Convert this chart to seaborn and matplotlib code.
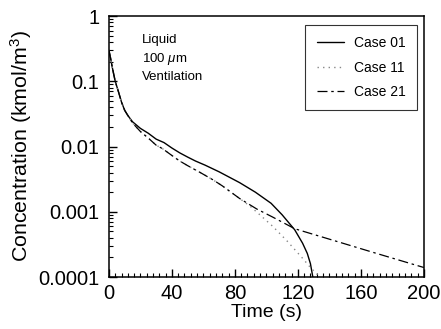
import matplotlib
matplotlib.use("Agg")
import matplotlib.pyplot as plt
from matplotlib.ticker import FixedLocator, FixedFormatter, MultipleLocator, LogLocator, NullFormatter
import seaborn as sns

# Case 01 (solid)
t_case01 = [0, 1, 2, 3, 4, 6, 8, 10, 12, 15, 20, 25, 30, 35, 40, 45, 50, 55, 61, 70,
             83, 93, 103, 110, 118, 123, 126, 128, 129.5]
c_case01 = [0.30, 0.23, 0.17, 0.13, 0.10, 0.07, 0.048, 0.036, 0.030, 0.024, 0.019, 0.016,
            0.013, 0.0115, 0.0095, 0.0080, 0.0069, 0.0060, 0.0052, 0.0041,
            0.0028, 0.0020, 0.00135, 0.0009, 0.00053, 0.00033, 0.00023, 0.00016, 0.0001]

# Case 11 (dotted)
t_case11 = [0, 1, 2, 3, 4, 6, 8, 10, 12, 15, 20, 25, 30, 34, 40, 45, 50, 58, 66, 72,
            83, 90, 97, 104, 113, 122.5, 128, 134]
c_case11 = [0.30, 0.23, 0.17, 0.13, 0.10, 0.07, 0.048, 0.036, 0.030, 0.023, 0.017, 0.0135,
            0.0105, 0.0093, 0.0073, 0.0060, 0.0051, 0.0040, 0.0031, 0.0025,
            0.0016, 0.0012, 0.00085, 0.0006, 0.00036, 0.0002, 0.00014, 0.0001]

# Case 21 (dash)
t_case21 = [0, 1, 2, 3, 4, 6, 8, 10, 12, 15, 20, 25, 30, 34, 40, 45, 50, 58, 66, 72,
            83, 94, 104, 118, 145, 170, 200]
c_case21 = [0.30, 0.23, 0.17, 0.13, 0.10, 0.07, 0.048, 0.036, 0.030, 0.023, 0.017, 0.0135,
            0.0105, 0.0093, 0.0073, 0.0060, 0.0051, 0.0040, 0.0031, 0.0025,
            0.0016, 0.0011, 0.00083, 0.00055, 0.00035, 0.00023, 0.00014]

y_ticks = [0.0001, 0.001, 0.01, 0.1, 1]
y_labels = ["0.0001", "0.001", "0.01", "0.1", "1"]
x_ticks = [0, 40, 80, 120, 160, 200]

sns.set_style("ticks")
plt.rcParams['font.family'] = ['Liberation Sans', 'DejaVu Sans']
plt.rcParams['mathtext.fontset'] = 'custom'
plt.rcParams['mathtext.rm'] = 'Liberation Sans'
plt.rcParams['mathtext.it'] = 'Liberation Sans:italic'
for k in ['text.color', 'axes.labelcolor', 'xtick.color', 'ytick.color']:
    plt.rcParams[k] = 'black'

fig = plt.figure(figsize=(4.41, 3.29), dpi=100)
ax = fig.add_axes([0.247, 0.158, 0.714, 0.793])

sns.lineplot(x=t_case01, y=c_case01, ax=ax, color="black", lw=1.0, label="Case 01")
sns.lineplot(x=t_case11, y=c_case11, ax=ax, color="#888888", lw=1.0,
             linestyle=(0, (1, 3)), label="Case 11")
sns.lineplot(x=t_case21, y=c_case21, ax=ax, color="black", lw=0.9,
             linestyle=(0, (8, 3, 2, 3)), label="Case 21")

ax.set_yscale("log")
ax.set_ylim(1e-4, 1)
ax.set_xlim(0, 200)
ax.yaxis.set_major_locator(FixedLocator(y_ticks))
ax.yaxis.set_major_formatter(FixedFormatter(y_labels))
ax.yaxis.set_minor_locator(LogLocator(base=10, subs=range(2, 10)))
ax.yaxis.set_minor_formatter(NullFormatter())
ax.xaxis.set_major_locator(FixedLocator(x_ticks))
ax.xaxis.set_minor_locator(MultipleLocator(4))

ax.tick_params(which="both", direction="in", labelsize=14.5, top=False, right=False)
ax.tick_params(which="major", length=6, width=1.0)
ax.tick_params(axis="y", which="major", pad=7)
ax.tick_params(axis="x", which="major", pad=5)
ax.tick_params(which="minor", length=3, width=0.8)
for s in ax.spines.values():
    s.set_linewidth(1.1)
    s.set_color("black")

ax.set_xlabel("Time (s)", fontsize=14, labelpad=1)
ax.set_ylabel("Concentration (kmol/m$^3$)", fontsize=15.4, labelpad=3)

ax.text(0.105, 0.91, "Liquid", transform=ax.transAxes, fontsize=9.5, va="center")
ax.text(0.105, 0.835, r"100 $\mu$m", transform=ax.transAxes, fontsize=9.5, va="center")
ax.text(0.105, 0.765, "Ventilation", transform=ax.transAxes, fontsize=9.5, va="center")

leg = ax.legend(loc="upper right", bbox_to_anchor=(0.978, 0.966), borderaxespad=0,
                fontsize=10, handlelength=2.0, frameon=True, fancybox=False,
                borderpad=0.8, labelspacing=0.75, handletextpad=0.7)
leg.get_frame().set_edgecolor("black")
leg.get_frame().set_linewidth(0.8)

fig.savefig("out.png", dpi=100)
